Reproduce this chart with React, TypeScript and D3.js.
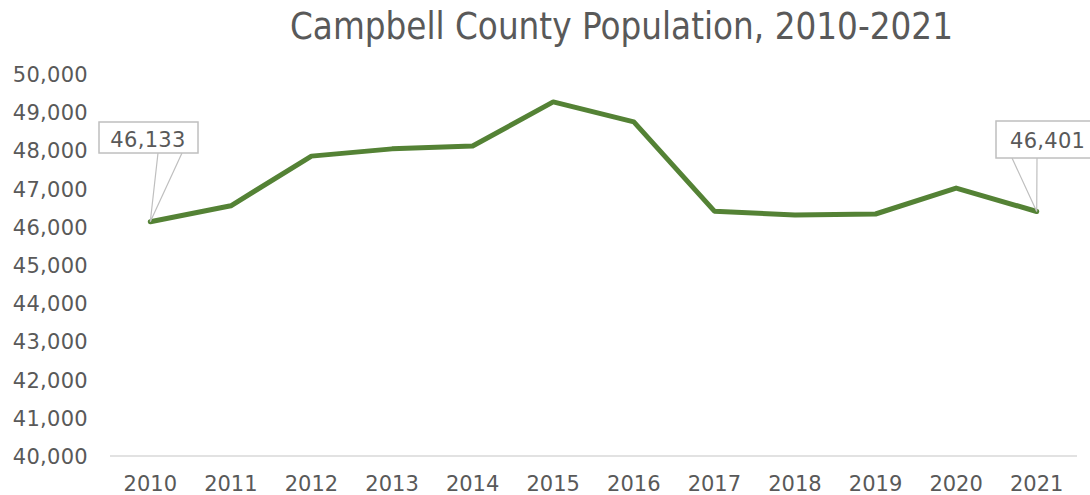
import React from "react";
import * as d3 from "d3";

const years: string[] = ["2010","2011","2012","2013","2014","2015","2016","2017","2018","2019","2020","2021"];
const population: number[] = [46133, 46550, 47850, 48040, 48115, 49270, 48745, 46410, 46310, 46335, 47015, 46401];
const yTicks: number[] = [40000, 41000, 42000, 43000, 44000, 45000, 46000, 47000, 48000, 49000, 50000];
const title = "Campbell County Population, 2010-2021";

const W = 1090, H = 495;
const TEXT = "#595959";
const FONT = "'DejaVu Sans', sans-serif";

export default function App() {
  const x = d3.scaleBand<string>().domain(years).range([110, 1077]);
  const y = d3.scaleLinear().domain([40000, 50000]).range([456, 74]);
  const cx = (yr: string) => (x(yr) as number) + x.bandwidth() / 2;
  const fmt = d3.format(",");
  const line = d3.line<number>()
    .x((_, i) => cx(years[i]))
    .y((d) => y(d));

  const firstX = cx(years[0]), firstY = y(population[0]);
  const lastI = years.length - 1;
  const lastX = cx(years[lastI]), lastY = y(population[lastI]);

  return (
    <svg width={W} height={H} style={{ position: "absolute", left: 0, top: 0, background: "#fff" }}>
      <rect x={0} y={0} width={W} height={H} fill="#fff" />
      <text x={290} y={39} fontFamily={FONT} fontSize={37} fill={TEXT}
        textLength={663} lengthAdjust="spacingAndGlyphs">{title}</text>

      {yTicks.map((t) => (
        <text key={t} x={88} y={y(t) + 8} textAnchor="end" fontFamily={FONT}
          fontSize={21} fill={TEXT} letterSpacing={0.3}>{fmt(t)}</text>
      ))}

      <line x1={110} x2={1077} y1={y(40000)} y2={y(40000)} stroke="#d9d9d9" strokeWidth={1.5} />

      {years.map((yr) => (
        <text key={yr} x={cx(yr)} y={491} textAnchor="middle" fontFamily={FONT}
          fontSize={21} fill={TEXT}>{yr}</text>
      ))}

      <path d={line(population) || ""} fill="none" stroke="#548235" strokeWidth={5}
        strokeLinejoin="round" strokeLinecap="round" />

      {/* first callout */}
      <path d={`M158,153 L${firstX},${firstY} L182,153`} fill="none" stroke="#bfbfbf" strokeWidth={1.2} />
      <rect x={99} y={122} width={99} height={31} fill="#fff" stroke="#bfbfbf" strokeWidth={1.5} />
      <text x={148} y={147} textAnchor="middle" fontFamily={FONT} fontSize={21} fill={TEXT}
        letterSpacing={0.3}>{fmt(population[0])}</text>

      {/* last callout */}
      <path d={`M1012,158 L${lastX},${lastY} L1037,158`} fill="none" stroke="#bfbfbf" strokeWidth={1.2} />
      <rect x={996} y={121} width={110} height={37} fill="#fff" stroke="#bfbfbf" strokeWidth={1.5} />
      <text x={1010} y={148} fontFamily={FONT} fontSize={21} fill={TEXT}
        letterSpacing={0.3}>{fmt(population[lastI])}</text>
    </svg>
  );
}
